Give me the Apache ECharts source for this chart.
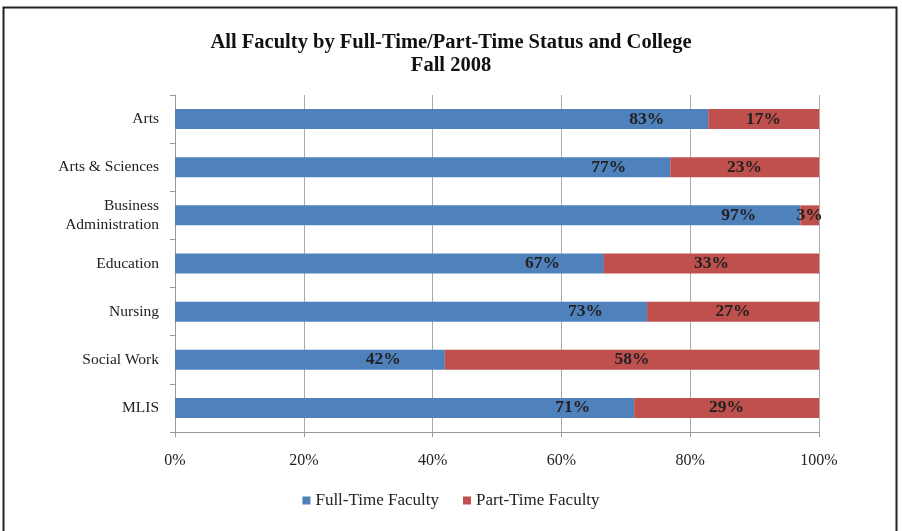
<!DOCTYPE html>
<html>
<head>
<meta charset="utf-8" />
<script src="https://cdn.jsdelivr.net/npm/echarts@6/dist/echarts.min.js"></script>
<title>All Faculty by Full-Time/Part-Time Status and College</title>
<style>
  html, body { margin: 0; padding: 0; background: #fff; }
  #main { width: 902px; height: 531px; }
</style>
</head>
<body>
<div id="main"></div>
<script>
// colleges, top to bottom as shown
var colleges = ['Arts', 'Arts & Sciences', 'Business\nAdministration', 'Education', 'Nursing', 'Social Work', 'MLIS'];
// percentages
var fullTime = [82.8, 76.9, 97.1, 66.6, 73.3, 41.9, 71.3];
var partTime = [17.2, 23.1, 2.9, 33.4, 26.7, 58.1, 28.7];
var xTicks = [0, 20, 40, 60, 80, 100];

var serif = '"Liberation Serif", "DejaVu Serif", serif';
var chart = echarts.init(document.getElementById('main'));

function pct(p) { return Math.round(p.value) + '%'; }

var option = {
  backgroundColor: '#fff',
  animation: false,
  title: {
    text: 'All Faculty by Full-Time/Part-Time Status and College\nFall 2008',
    left: 'center',
    top: 26,
    textStyle: { fontFamily: serif, fontSize: 20.5, fontWeight: 'bold', color: '#111', lineHeight: 23 }
  },
  graphic: [{
    type: 'rect',
    shape: { x: 3.5, y: 7.5, width: 893, height: 530 },
    style: { fill: 'none', stroke: '#222', lineWidth: 2 },
    silent: true
  }],
  legend: {
    bottom: 17,
    left: 'center',
    itemWidth: 8,
    itemHeight: 8,
    itemGap: 24,
    icon: 'rect',
    textStyle: { fontFamily: serif, fontSize: 17, color: '#222' },
    data: ['Full-Time Faculty', 'Part-Time Faculty']
  },
  grid: { left: 175, right: 83, top: 95, bottom: 99 },
  xAxis: {
    type: 'value',
    min: 0,
    max: 100,
    interval: 20,
    axisLine: { show: true, lineStyle: { color: '#999' } },
    axisTick: { show: true, length: 5, lineStyle: { color: '#999' } },
    splitLine: { show: true, lineStyle: { color: '#aaa' } },
    axisLabel: {
      margin: 21,
      fontFamily: serif, fontSize: 16, color: '#222',
      formatter: function (v) { return xTicks.indexOf(v) >= 0 ? v + '%' : ''; }
    }
  },
  yAxis: {
    type: 'category',
    inverse: true,
    data: colleges,
    axisLine: { show: true, lineStyle: { color: '#999' } },
    axisTick: { show: true, length: 5, lineStyle: { color: '#999' } },
    axisLabel: { margin: 16, fontFamily: serif, fontSize: 15.5, color: '#222', lineHeight: 19, align: 'right' }
  },
  series: [{
    name: 'Full-Time Faculty',
    type: 'bar',
    stack: 'all',
    barWidth: 20,
    data: fullTime,
    itemStyle: { color: '#4F81BD' },
    label: {
      show: true, position: 'insideRight', distance: 44,
      fontFamily: serif, fontSize: 17.5, fontWeight: 'bold', color: '#222',
      formatter: pct
    }
  }, {
    name: 'Part-Time Faculty',
    type: 'bar',
    stack: 'all',
    barWidth: 20,
    data: partTime,
    itemStyle: { color: '#C0504D' },
    label: {
      show: true, position: 'inside',
      fontFamily: serif, fontSize: 17.5, fontWeight: 'bold', color: '#222',
      formatter: pct
    }
  }]
};

chart.setOption(option);
</script>
</body>
</html>
